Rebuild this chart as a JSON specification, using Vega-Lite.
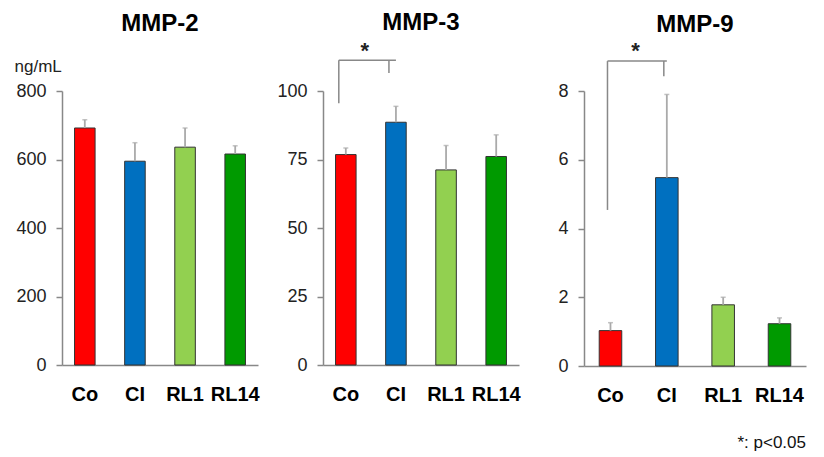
{
  "$schema": "https://vega.github.io/schema/vega-lite/v6.json",
  "padding": {"left": 14, "top": 10, "right": 5, "bottom": 5},
  "background": "white",
  "title": {"text": "*: p<0.05", "orient": "bottom", "anchor": "end", "fontSize": 17, "fontWeight": "normal", "font": "Liberation Sans", "color": "#111", "offset": 30},
  "config": {
    "view": {"stroke": null},
    "font": "Liberation Sans",
    "axis": {"domainColor": "#888", "tickColor": "#888", "grid": false, "labelFont": "Liberation Sans"},
    "axisY": {"labelFontSize": 18, "tickSize": 6, "labelPadding": 10, "labelColor": "#222", "domainWidth": 1.5, "tickWidth": 1.5, "minExtent": 46},
    "axisX": {"labelFontSize": 20, "labelFontWeight": "bold", "labelAngle": 0, "ticks": false, "labelPadding": 19, "labelColor": "#000", "domainWidth": 1.5},
    "title": {"fontSize": 24, "fontWeight": "bold", "font": "Liberation Sans", "color": "#000", "anchor": "middle"}
  },
  "bounds": "flush",
  "spacing": 65,
  "datasets": {
    "bars": [
      {"panel": "MMP-2", "group": "Co", "mean": 692, "upper": 716},
      {"panel": "MMP-2", "group": "CI", "mean": 595, "upper": 649},
      {"panel": "MMP-2", "group": "RL1", "mean": 636, "upper": 692},
      {"panel": "MMP-2", "group": "RL14", "mean": 616, "upper": 640},
      {"panel": "MMP-3", "group": "Co", "mean": 76.8, "upper": 79.2},
      {"panel": "MMP-3", "group": "CI", "mean": 88.6, "upper": 94.4},
      {"panel": "MMP-3", "group": "RL1", "mean": 71.2, "upper": 80.1},
      {"panel": "MMP-3", "group": "RL14", "mean": 76.1, "upper": 84.0},
      {"panel": "MMP-9", "group": "Co", "mean": 1.03, "upper": 1.26},
      {"panel": "MMP-9", "group": "CI", "mean": 5.48, "upper": 7.9},
      {"panel": "MMP-9", "group": "RL1", "mean": 1.78, "upper": 2.0},
      {"panel": "MMP-9", "group": "RL14", "mean": 1.23, "upper": 1.4}
    ],
    "brackets": [
      {"panel": "MMP-3", "group": "Co", "y": 95.5, "y2": 111.2},
      {"panel": "MMP-3", "group": "CI", "y": 106.6, "y2": 111.2},
      {"panel": "MMP-9", "group": "Co", "y": 4.54, "y2": 8.87},
      {"panel": "MMP-9", "group": "CI", "y": 8.43, "y2": 8.87}
    ],
    "bars_h": [
      {"panel": "MMP-3", "from": "Co", "to": "CI", "y": 111.2, "star": 114.6},
      {"panel": "MMP-9", "from": "Co", "to": "CI", "y": 8.87, "star": 9.15}
    ]
  },
  "hconcat": [
    {
      "title": {"text": "MMP-2", "offset": 21},
      "width": 196, "height": 274,
      "layer": [
        {
          "data": {"name": "bars"},
          "transform": [{"filter": "datum.panel === 'MMP-2'"}],
          "mark": {"type": "bar", "stroke": "#333", "strokeWidth": 1},
          "encoding": {
            "x": {"field": "group", "type": "nominal", "scale": {"domain": ["Co", "CI", "RL1", "RL14"], "paddingInner": 0.59, "paddingOuter": 0.25}, "axis": {"title": null}},
            "y": {"field": "mean", "type": "quantitative", "scale": {"domain": [0, 800], "nice": false}, "axis": {"values": [0, 200, 400, 600, 800], "title": "ng/mL", "titleAngle": 0, "titleAlign": "left", "titleBaseline": "alphabetic", "titleX": -48, "titleY": -20, "titleFontSize": 17, "titleFontWeight": "normal", "titleColor": "#222"}},
            "color": {"field": "group", "type": "nominal", "scale": {"domain": ["Co", "CI", "RL1", "RL14"], "range": ["#FF0000", "#0070C0", "#92D050", "#009A00"]}, "legend": null}
          }
        },
        {
          "data": {"name": "bars"},
          "transform": [{"filter": "datum.panel === 'MMP-2'"}],
          "mark": {"type": "rule", "color": "#aaa", "strokeWidth": 1.8},
          "encoding": {"x": {"field": "group", "type": "nominal"}, "y": {"field": "mean", "type": "quantitative"}, "y2": {"field": "upper"}}
        },
        {
          "data": {"name": "bars"},
          "transform": [{"filter": "datum.panel === 'MMP-2'"}],
          "mark": {"type": "tick", "color": "#aaa", "thickness": 1.5, "size": 5},
          "encoding": {"x": {"field": "group", "type": "nominal"}, "y": {"field": "upper", "type": "quantitative"}}
        }
      ]
    },
    {
      "title": {"text": "MMP-3", "offset": 5},
      "width": 196, "height": 274,
      "layer": [
        {
          "data": {"name": "bars"},
          "transform": [{"filter": "datum.panel === 'MMP-3'"}],
          "mark": {"type": "bar", "stroke": "#333", "strokeWidth": 1},
          "encoding": {
            "x": {"field": "group", "type": "nominal", "scale": {"domain": ["Co", "CI", "RL1", "RL14"], "paddingInner": 0.59, "paddingOuter": 0.25}, "axis": {"title": null}},
            "y": {"field": "mean", "type": "quantitative", "scale": {"domain": [0, 100], "nice": false}, "axis": {"values": [0, 25, 50, 75, 100], "title": null}},
            "color": {"field": "group", "type": "nominal", "scale": {"domain": ["Co", "CI", "RL1", "RL14"], "range": ["#FF0000", "#0070C0", "#92D050", "#009A00"]}, "legend": null}
          }
        },
        {
          "data": {"name": "bars"},
          "transform": [{"filter": "datum.panel === 'MMP-3'"}],
          "mark": {"type": "rule", "color": "#aaa", "strokeWidth": 1.8},
          "encoding": {"x": {"field": "group", "type": "nominal"}, "y": {"field": "mean", "type": "quantitative"}, "y2": {"field": "upper"}}
        },
        {
          "data": {"name": "bars"},
          "transform": [{"filter": "datum.panel === 'MMP-3'"}],
          "mark": {"type": "tick", "color": "#aaa", "thickness": 1.5, "size": 5},
          "encoding": {"x": {"field": "group", "type": "nominal"}, "y": {"field": "upper", "type": "quantitative"}}
        },
        {
          "data": {"name": "brackets"},
          "transform": [{"filter": "datum.panel === 'MMP-3'"}],
          "mark": {"type": "rule", "color": "#888", "strokeWidth": 1.5, "xOffset": -7},
          "encoding": {"x": {"field": "group", "type": "nominal"}, "y": {"field": "y", "type": "quantitative"}, "y2": {"field": "y2"}}
        },
        {
          "data": {"name": "bars_h"},
          "transform": [{"filter": "datum.panel === 'MMP-3'"}],
          "mark": {"type": "rule", "color": "#888", "strokeWidth": 1.5, "xOffset": -7},
          "encoding": {"x": {"field": "from", "type": "nominal"}, "x2": {"field": "to"}, "y": {"field": "y", "type": "quantitative"}}
        },
        {
          "data": {"name": "bars_h"},
          "transform": [{"filter": "datum.panel === 'MMP-3'"}],
          "mark": {"type": "text", "text": "*", "fontSize": 22, "fontWeight": "bold", "color": "#222", "dx": 19, "baseline": "middle"},
          "encoding": {"x": {"field": "from", "type": "nominal"}, "y": {"field": "star", "type": "quantitative"}}
        }
      ]
    },
    {
      "title": {"text": "MMP-9", "offset": 3},
      "width": 222, "height": 275,
      "layer": [
        {
          "data": {"name": "bars"},
          "transform": [{"filter": "datum.panel === 'MMP-9'"}],
          "mark": {"type": "bar", "stroke": "#333", "strokeWidth": 1},
          "encoding": {
            "x": {"field": "group", "type": "nominal", "scale": {"domain": ["Co", "CI", "RL1", "RL14"], "paddingInner": 0.6, "paddingOuter": 0.27}, "axis": {"title": null}},
            "y": {"field": "mean", "type": "quantitative", "scale": {"domain": [0, 8], "nice": false}, "axis": {"values": [0, 2, 4, 6, 8], "title": null}},
            "color": {"field": "group", "type": "nominal", "scale": {"domain": ["Co", "CI", "RL1", "RL14"], "range": ["#FF0000", "#0070C0", "#92D050", "#009A00"]}, "legend": null}
          }
        },
        {
          "data": {"name": "bars"},
          "transform": [{"filter": "datum.panel === 'MMP-9'"}],
          "mark": {"type": "rule", "color": "#aaa", "strokeWidth": 1.8},
          "encoding": {"x": {"field": "group", "type": "nominal"}, "y": {"field": "mean", "type": "quantitative"}, "y2": {"field": "upper"}}
        },
        {
          "data": {"name": "bars"},
          "transform": [{"filter": "datum.panel === 'MMP-9'"}],
          "mark": {"type": "tick", "color": "#aaa", "thickness": 1.5, "size": 5},
          "encoding": {"x": {"field": "group", "type": "nominal"}, "y": {"field": "upper", "type": "quantitative"}}
        },
        {
          "data": {"name": "brackets"},
          "transform": [{"filter": "datum.panel === 'MMP-9'"}],
          "mark": {"type": "rule", "color": "#888", "strokeWidth": 1.5, "xOffset": -3},
          "encoding": {"x": {"field": "group", "type": "nominal"}, "y": {"field": "y", "type": "quantitative"}, "y2": {"field": "y2"}}
        },
        {
          "data": {"name": "bars_h"},
          "transform": [{"filter": "datum.panel === 'MMP-9'"}],
          "mark": {"type": "rule", "color": "#888", "strokeWidth": 1.5, "xOffset": -3},
          "encoding": {"x": {"field": "from", "type": "nominal"}, "x2": {"field": "to"}, "y": {"field": "y", "type": "quantitative"}}
        },
        {
          "data": {"name": "bars_h"},
          "transform": [{"filter": "datum.panel === 'MMP-9'"}],
          "mark": {"type": "text", "text": "*", "fontSize": 22, "fontWeight": "bold", "color": "#222", "dx": 25, "baseline": "middle"},
          "encoding": {"x": {"field": "from", "type": "nominal"}, "y": {"field": "star", "type": "quantitative"}}
        }
      ]
    }
  ]
}
